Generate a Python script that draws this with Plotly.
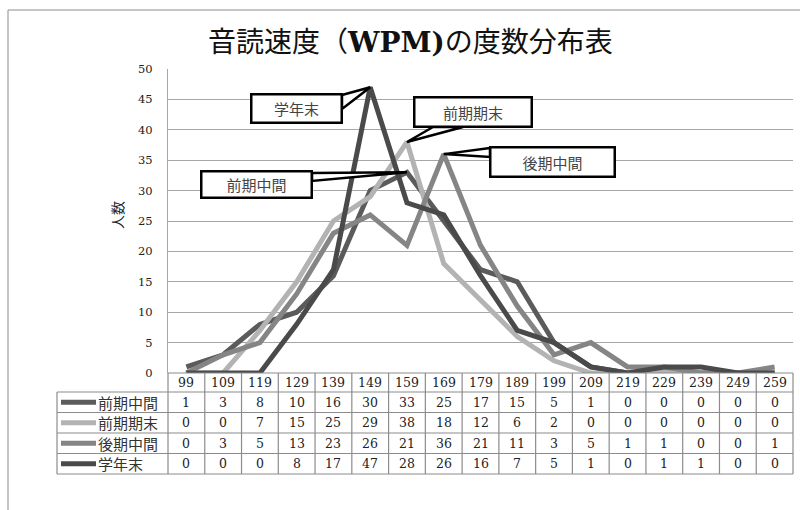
import plotly.graph_objects as go

# Reading-speed bins (WPM) and the number of students in each bin
bins = ["99", "109", "119", "129", "139", "149", "159", "169", "179",
        "189", "199", "209", "219", "229", "239", "249", "259"]
zenki_chukan = [1, 3, 8, 10, 16, 30, 33, 25, 17, 15, 5, 1, 0, 0, 0, 0, 0]
zenki_kimatsu = [0, 0, 7, 15, 25, 29, 38, 18, 12, 6, 2, 0, 0, 0, 0, 0, 0]
kouki_chukan = [0, 3, 5, 13, 23, 26, 21, 36, 21, 11, 3, 5, 1, 1, 0, 0, 1]
gakunenmatsu = [0, 0, 0, 8, 17, 47, 28, 26, 16, 7, 5, 1, 0, 1, 1, 0, 0]

series_names = ["前期中間", "前期期末", "後期中間", "学年末"]
series_values = [zenki_chukan, zenki_kimatsu, kouki_chukan, gakunenmatsu]
series_colors = ["#5b5b5b", "#b3b3b3", "#858585", "#4a4a4a"]

title_parts = ("音読速度（", "WPM)", "の度数分布表")
y_title = "人数"
y_max = 50

# Page geometry (pixels)
W, H = 800, 510
L, R, T, B = 168, 793, 69, 373
PW, PH = R - L, B - T
n = len(bins)

SERIF = "DejaVu Serif, Liberation Serif, serif"
JP = "Noto Sans CJK JP, sans-serif"


def px(X):
    return (X - L) / PW


def py(Y):
    return (B - Y) / PH


def cat_x(i):
    return (i + 0.5) / n


def label(x, y, text, size, color="#222", family=JP, **kw):
    d = dict(xref="paper", yref="paper", x=x, y=y, text=text, showarrow=False,
             xanchor="center", yanchor="middle",
             font=dict(family=family, size=size, color=color))
    d.update(kw)
    return d


fig = go.Figure()
for name, vals, col in zip(series_names, series_values, series_colors):
    fig.add_trace(go.Scatter(x=bins, y=vals, mode="lines", name=name,
                             line=dict(color=col, width=5)))

shapes = []
annotations = []
grid_col = "#a6a6a6"
table_col = "#8c8c8c"

# Outer chart frame
shapes.append(dict(type="rect", xref="paper", yref="paper",
                   x0=px(8), y0=py(10), x1=px(806), y1=py(520),
                   line=dict(color="#8c8c8c", width=1)))

# Data table under the plot
row_lines = [373, 392, 412.5, 433, 453.5, 474]
for k, yy in enumerate(row_lines):
    x_left = L if k == 0 else 57
    shapes.append(dict(type="line", xref="paper", yref="paper",
                       x0=px(x_left), x1=px(R), y0=py(yy), y1=py(yy),
                       line=dict(color=table_col, width=1.2)))
for i in range(n + 1):
    shapes.append(dict(type="line", xref="paper", yref="paper",
                       x0=i / n, x1=i / n, y0=py(373), y1=py(474),
                       line=dict(color=table_col, width=1.2)))
shapes.append(dict(type="line", xref="paper", yref="paper",
                   x0=px(57), x1=px(57), y0=py(392), y1=py(474),
                   line=dict(color=table_col, width=1.2)))

for i, b in enumerate(bins):
    annotations.append(label(cat_x(i), py((row_lines[0] + row_lines[1]) / 2),
                             b, 12.5, family=SERIF))
for r, (name, vals, col) in enumerate(zip(series_names, series_values, series_colors)):
    yc = (row_lines[r + 1] + row_lines[r + 2]) / 2
    shapes.append(dict(type="line", xref="paper", yref="paper",
                       x0=px(61), x1=px(96), y0=py(yc), y1=py(yc),
                       line=dict(color=col, width=5)))
    annotations.append(label(px(96), py(yc), name, 15, color="#333",
                             xanchor="left"))
    for i, v in enumerate(vals):
        annotations.append(label(cat_x(i), py(yc), str(v), 12.5, family=SERIF))

# Callout labels pointing at each series' peak
callouts = [
    # series index, peak bin index, box (x0, y0, x1, y1), wedge base points
    (3, 5, (250, 93, 343, 124), ((342, 95), (342, 109))),
    (1, 6, (413, 96, 533, 128), ((433, 127), (463, 127))),
    (2, 7, (489, 146, 616, 178), ((490, 148), (490, 157))),
    (0, 6, (200, 170, 313, 199), ((312, 173), (312, 181))),
]
for s, idx, (bx0, by0, bx1, by1), (p1, p2) in callouts:
    tx, ty = cat_x(idx), series_values[s][idx] / y_max
    path = (f"M {px(p1[0])},{py(p1[1])} L {tx},{ty} "
            f"L {px(p2[0])},{py(p2[1])} Z")
    shapes.append(dict(type="path", xref="paper", yref="paper", path=path,
                       fillcolor="white", line=dict(color="black", width=2.5),
                       layer="above"))
    annotations.append(label(px((bx0 + bx1) / 2), py((by0 + by1) / 2),
                             series_names[s], 15, color="#444",
                             width=bx1 - bx0 - 5, height=by1 - by0 - 5,
                             borderpad=0, bordercolor="black", borderwidth=2.5,
                             bgcolor="white"))

# Title and y-axis caption
title_html = (f"{title_parts[0]}"
              f"<span style='font-family:DejaVu Serif;font-weight:bold'>{title_parts[1]}</span>"
              f"{title_parts[2]}")
annotations.append(label(px(410), py(40), title_html, 28, color="#111"))
annotations.append(label(px(117), py(215), y_title, 14, textangle=-90))

fig.update_layout(
    width=W, height=H,
    margin=dict(l=L, r=W - R, t=T, b=H - B),
    paper_bgcolor="white", plot_bgcolor="white",
    showlegend=False,
    shapes=shapes, annotations=annotations,
    xaxis=dict(type="category", range=[-0.5, n - 0.5], showticklabels=False,
               showgrid=False, zeroline=False, showline=False, fixedrange=True),
    yaxis=dict(range=[0, y_max], dtick=5, showgrid=True, gridcolor=grid_col,
               gridwidth=1.2, zeroline=False, showline=True, linecolor=grid_col,
               linewidth=1.2, ticks="", ticklabelstandoff=12,
               tickfont=dict(family=SERIF, size=11.5, color="#222")),
)

fig.write_html("out.html")
